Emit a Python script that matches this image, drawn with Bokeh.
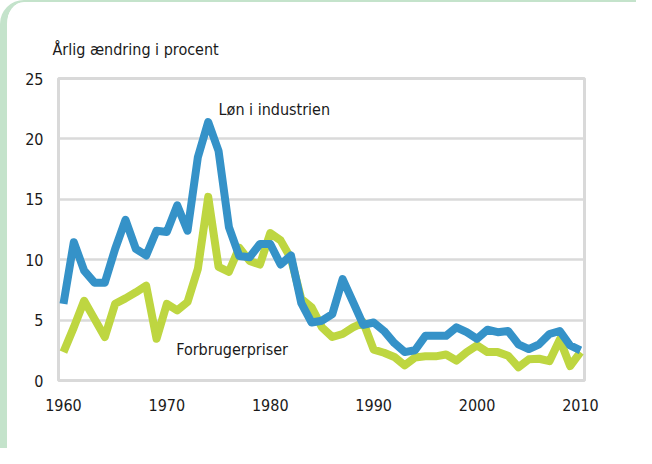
from bokeh.plotting import figure
from bokeh.models import Range1d, FixedTicker
from bokeh.core.properties import value
from bokeh.embed import file_html
from bokeh.resources import INLINE

years = list(range(1960, 2011))
loen = [6.35, 11.45, 9.1, 8.1, 8.1, 10.9, 13.3, 10.9, 10.35, 12.4,
        12.3, 14.5, 12.4, 18.5, 21.4, 19.0, 12.7, 10.3, 10.2, 11.3,
        11.3, 9.6, 10.35, 6.4, 4.8, 4.95, 5.5, 8.4, 6.5, 4.6,
        4.8, 4.1, 3.1, 2.35, 2.5, 3.7, 3.7, 3.7, 4.4, 4.0,
        3.45, 4.2, 4.0, 4.1, 3.0, 2.6, 3.0, 3.85, 4.1, 2.9, 2.5]
priser = [2.35, 4.4, 6.6, 5.1, 3.6, 6.35, 6.8, 7.3, 7.85, 3.45,
          6.35, 5.8, 6.5, 9.25, 15.2, 9.4, 9.0, 11.0, 9.9, 9.6,
          12.2, 11.6, 10.1, 6.75, 6.05, 4.4, 3.6, 3.85, 4.4, 4.8,
          2.55, 2.3, 1.95, 1.25, 1.9, 2.0, 2.0, 2.15, 1.65, 2.35,
          2.9, 2.35, 2.35, 2.05, 1.1, 1.75, 1.8, 1.6, 3.4, 1.2, 2.35]
x_ticks = [1960, 1970, 1980, 1990, 2000, 2010]
y_ticks = [0, 5, 10, 15, 20, 25]
title_text = "Årlig ændring i procent"
label_loen = "Løn i industrien"
label_priser = "Forbrugerpriser"

FONT = "DejaVu Sans Condensed, Roboto, sans-serif"
TXT = "#1a1a1a"
BLUE = "#3592c8"
GREEN = "#bed641"
BG_GREEN = "#c4e3cb"

p = figure(width=636, height=448, output_backend="svg", toolbar_location=None,
           x_range=Range1d(1959.52, 2010.39), y_range=Range1d(0, 25),
           min_border_left=51, min_border_right=59, min_border_top=76,
           min_border_bottom=70)
p.background_fill_color = "white"
p.border_fill_color = "white"
p.outline_line_color = "#d9d9d9"
p.outline_line_width = 3
p.styles = {"border-left": "7px solid " + BG_GREEN,
            "border-top": "2px solid " + BG_GREEN,
            "border-top-left-radius": "24px",
            "overflow": "hidden"}

p.title.text = title_text
p.title.text_font = FONT
p.title.text_font_size = "16px"
p.title.text_font_style = "normal"
p.title.text_color = TXT
p.title.align = "left"
p.title.offset = -6
p.title.standoff = 39

p.xgrid.visible = False
p.ygrid.ticker = FixedTicker(ticks=y_ticks)
p.ygrid.grid_line_color = "#dadada"
p.ygrid.grid_line_width = 2.5

for ax in (p.xaxis[0], p.yaxis[0]):
    ax.axis_line_color = None
    ax.major_tick_line_color = None
    ax.minor_tick_line_color = None
    ax.major_tick_out = 0
    ax.major_tick_in = 0
    ax.major_label_text_font = FONT
    ax.major_label_text_font_size = "16px"
    ax.major_label_text_color = TXT
p.xaxis[0].ticker = FixedTicker(ticks=x_ticks)
p.yaxis[0].ticker = FixedTicker(ticks=y_ticks)
p.xaxis[0].major_label_standoff = 18
p.yaxis[0].major_label_standoff = 15

p.line(years, priser, line_color=GREEN, line_width=8, line_join="round")
p.line(years, loen, line_color=BLUE, line_width=8, line_join="round")

p.text(x=[1975.0], y=[22.4], text=[label_loen], text_font=value(FONT),
       text_font_size="16px", text_color=TXT, text_baseline="middle", text_align="left")
p.text(x=[1970.9], y=[2.6], text=[label_priser], text_font=value(FONT),
       text_font_size="16px", text_color=TXT, text_baseline="middle", text_align="left")

open("out.html", "w").write(file_html(p, INLINE))
